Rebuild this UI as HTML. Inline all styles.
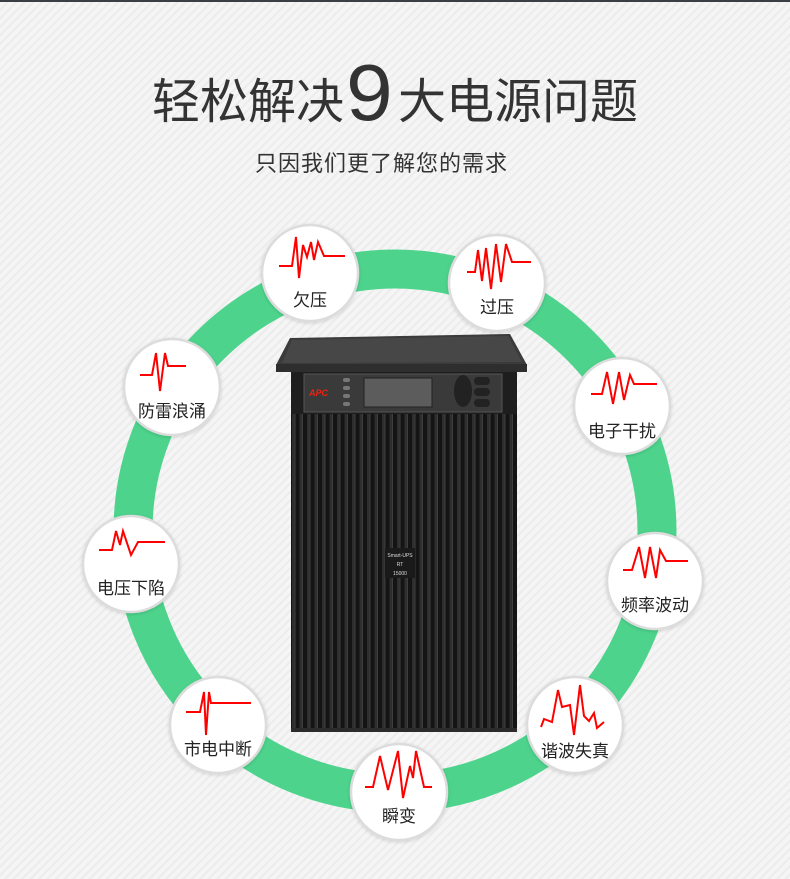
<!DOCTYPE html>
<html><head><meta charset="utf-8"><style>
html,body{margin:0;padding:0}
body{width:790px;height:879px;overflow:hidden;background:#f4f4f4;font-family:"Liberation Sans","Noto Sans CJK SC",sans-serif}
</style></head><body>
<svg width="790" height="879" viewBox="0 0 790 879" xmlns="http://www.w3.org/2000/svg" style="display:block">
<defs>
<pattern id="st" width="6" height="6" patternUnits="userSpaceOnUse" patternTransform="rotate(-45)">
<rect width="6" height="6" fill="#f5f5f5"/><rect width="6" height="2" fill="#ececec"/>
</pattern>
<pattern id="gr" width="7.5" height="10" patternUnits="userSpaceOnUse" x="292">
<rect width="7.5" height="10" fill="#141414"/><rect x="0" width="2.5" height="10" fill="#2e2e2e"/><rect x="2.5" width="1" height="10" fill="#3e3e3e"/>
</pattern>
<filter id="sh" x="-20%" y="-20%" width="140%" height="140%"><feDropShadow dx="0" dy="1" stdDeviation="1.5" flood-color="#000" flood-opacity="0.15"/></filter>
</defs>
<rect width="790" height="879" fill="url(#st)"/>
<rect width="790" height="2" fill="#3a3f45"/>
<text x="152" y="118" font-size="48" fill="#333" font-family="Liberation Sans,Noto Sans CJK SC,sans-serif">轻松解决</text>
<text x="346" y="120" font-size="80" fill="#333" font-family="Liberation Sans,sans-serif" transform="translate(346,0) scale(1.05,1) translate(-346,0)">9</text>
<text x="398" y="118" font-size="48" fill="#333" font-family="Liberation Sans,Noto Sans CJK SC,sans-serif">大电源问题</text>
<text x="255" y="171" font-size="22" fill="#333" letter-spacing="1" font-family="Liberation Sans,Noto Sans CJK SC,sans-serif">只因我们更了解您的需求</text>

<circle cx="395" cy="531" r="262" fill="none" stroke="#4dd38c" stroke-width="39"/>

<!-- UPS -->
<path d="M290 338 L510 334 L527 365 L527 372 L276 372 L276 365 Z" fill="#3b3b3b"/>
<path d="M292 340 L508 336 L522 362 L282 363 Z" fill="#474747"/>
<rect x="276" y="364" width="251" height="8" fill="#2e2e2e"/>
<rect x="291" y="372" width="226" height="360" fill="url(#gr)"/>
<rect x="291" y="372" width="226" height="42" fill="#1e1e1e"/>
<rect x="304" y="374" width="198" height="38" fill="#3a3a3a" stroke="#555" stroke-width="1"/>
<text x="309" y="396" font-size="9" font-weight="bold" fill="#e21" font-style="italic">APC</text>
<rect x="343" y="378" width="7" height="4" rx="2" fill="#777"/><rect x="343" y="386" width="7" height="4" rx="2" fill="#777"/><rect x="343" y="394" width="7" height="4" rx="2" fill="#777"/><rect x="343" y="402" width="7" height="4" rx="2" fill="#777"/>
<rect x="364" y="378" width="68" height="29" fill="#5c5c5c" stroke="#222"/>
<ellipse cx="463" cy="391" rx="9" ry="16" fill="#222"/>
<rect x="474" y="377" width="16" height="8" rx="4" fill="#222"/><rect x="474" y="388" width="16" height="8" rx="4" fill="#222"/><rect x="474" y="399" width="16" height="8" rx="4" fill="#222"/>
<rect x="385" y="548" width="30" height="30" fill="#1a1a1a"/>
<text x="400" y="557" font-size="5" fill="#ddd" text-anchor="middle">Smart-UPS</text>
<text x="400" y="566" font-size="5" fill="#ddd" text-anchor="middle">RT</text>
<text x="400" y="575" font-size="5" fill="#ddd" text-anchor="middle">15000</text>
<rect x="291" y="728" width="226" height="4" fill="#2b2b2b"/>

<g font-size="17" fill="#222" text-anchor="middle" font-family="Liberation Sans,Noto Sans CJK SC,sans-serif">
<g filter="url(#sh)" fill="#fff" stroke="#dcdcdc" stroke-width="2.5">
<circle cx="310" cy="273" r="48"/><circle cx="497" cy="283" r="48"/><circle cx="172" cy="387" r="48"/>
<circle cx="622" cy="406" r="48"/><circle cx="131" cy="564" r="48"/><circle cx="655" cy="581" r="48"/>
<circle cx="218" cy="725" r="48"/><circle cx="575" cy="725" r="48"/><circle cx="399" cy="792" r="48"/>
</g>
<text x="310" y="306">欠压</text><text x="497" y="313">过压</text><text x="172" y="417">防雷浪涌</text>
<text x="622" y="437">电子干扰</text><text x="131" y="594">电压下陷</text><text x="655" y="611">频率波动</text>
<text x="218" y="755">市电中断</text><text x="575" y="757">谐波失真</text><text x="399" y="822">瞬变</text>
</g>
<g fill="none" stroke="#f00" stroke-width="2" stroke-linejoin="miter">
<polyline points="279,266 292,266 296,237 299,278 303,245 307,257 311,242 314,260 318,242 324,256 345,256"/>
<polyline points="467,272 475,272 478,250 482,281 486,248 491,289 496,244 501,282 506,244 512,262 531,262"/>
<polyline points="140,375 152,375 156,353 160,391 165,353 168,366 186,366"/>
<polyline points="591,394 602,394 607,372 613,404 619,372 624,400 630,375 634,384 657,384"/>
<polyline points="99,550 112,550 116,531 120,545 123,531 131,555 138,542 165,542"/>
<polyline points="623,570 632,570 639,547 645,578 650,547 656,578 660,550 666,561 688,561"/>
<polyline points="186,712 200,712 204,692 206,735 209,692 211,703 251,703"/>
<polyline points="541,727 544,719 552,722 558,690 562,707 570,705 574,735 580,685 584,716 589,721 594,713 597,728 604,722"/>
<polyline points="365,787 373,787 380,756 388,790 398,751 403,798 410,766 413,778 416,751 424,787 432,787"/>
</g>
</svg>
</body></html>
